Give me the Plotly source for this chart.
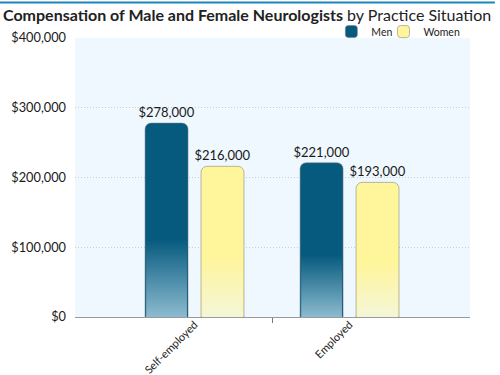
import plotly.graph_objects as go

categories = ["Self-employed", "Employed"]
men = [278000, 221000]
women = [216000, 193000]
series_names = ["Men", "Women"]

FONT = "Lato"
DARK_BLUE = "#065A7E"
LIGHT_BLUE = "#8CBBD0"
YELLOW = "#FFF59B"
LIGHT_YELLOW = "#F4F6D8"

xpos = list(range(len(categories)))
bar_w = 0.277
offsets = [-0.319, 0.042]
fade_frac = 0.4
inset = 0.007

fig = go.Figure()

series = [(series_names[0], men, DARK_BLUE, LIGHT_BLUE, offsets[0], "legend"),
          (series_names[1], women, YELLOW, LIGHT_YELLOW, offsets[1], "legend2")]

for name, vals, top_c, bot_c, off, lg in series:
    fig.add_trace(go.Bar(
        name=name, x=xpos, y=vals, width=bar_w, offset=off, legend=lg,
        marker=dict(color=top_c, cornerradius=6,
                    line=dict(color="rgba(120,120,120,0.5)", width=1)),
        texttemplate="$%{y:,.0f}", textposition="outside", constraintext="none",
        textfont=dict(family=FONT, size=13, color="#1a1a1a"),
        cliponaxis=False, hoverinfo="skip",
    ))

# gradient fade at the bottom of each bar
for name, vals, top_c, bot_c, off, lg in series:
    for xi, v in zip(xpos, vals):
        x0 = xi + off + inset
        x1 = xi + off + bar_w - inset
        h = v * fade_frac
        fig.add_trace(go.Scatter(
            x=[x0, x1, x1, x0, x0], y=[0, 0, h, h, 0],
            mode="lines", fill="toself", line=dict(width=0),
            fillgradient=dict(type="vertical", start=0, stop=h,
                              colorscale=[[0, bot_c], [1, top_c]]),
            showlegend=False, hoverinfo="skip",
        ))

legend_common = dict(orientation="h", xanchor="left", y=1.075, yanchor="top",
                     font=dict(family=FONT, size=10.5, color="#222"),
                     bgcolor="rgba(0,0,0,0)", itemwidth=30)

fig.update_layout(
    width=500, height=375,
    margin=dict(l=75, r=30, t=38, b=58, autoexpand=False),
    paper_bgcolor="white", plot_bgcolor="#EFF8FE",
    barmode="overlay",
    font=dict(family=FONT, size=12, color="#222"),
    title=dict(
        text="<b>Compensation of Male and Female Neurologists</b> by Practice Situation",
        x=0.006, xanchor="left", xref="container",
        y=0.958, yanchor="middle", yref="container",
        font=dict(family=FONT, size=16, color="#222"),
    ),
    legend=dict(x=0.649, **legend_common),
    legend2=dict(x=0.781, **legend_common),
    xaxis=dict(
        range=[-0.771, 1.777], tickmode="array", tickvals=xpos, ticktext=categories,
        tickangle=-45, ticks="", showgrid=False, zeroline=False, automargin=False,
        showline=True, linecolor="#9a9a9a", linewidth=1, ticklabelstandoff=-4,
        tickfont=dict(family=FONT, size=11, color="#222"),
        minor=dict(tickmode="array", tickvals=[0.5], ticks="outside",
                   ticklen=5, tickcolor="#777", tickwidth=1, showgrid=False),
    ),
    yaxis=dict(
        range=[0, 400000], dtick=100000, tickformat="$,.0f", automargin=False,
        showgrid=True, gridcolor="#c9ced2", griddash="1px,2px", gridwidth=1,
        zeroline=False, showline=False, ticks="", ticklabelstandoff=8,
        tickfont=dict(family=FONT, size=12.75, color="#1a1a1a"),
    ),
    shapes=[dict(type="line", xref="paper", yref="paper",
                 x0=-0.19, x1=1.063, y0=1.127, y1=1.127,
                 line=dict(color="#1F84BA", width=2))],
)

fig.write_html("out.html", config={"displayModeBar": False},
               post_script="document.body.style.margin='0';")
